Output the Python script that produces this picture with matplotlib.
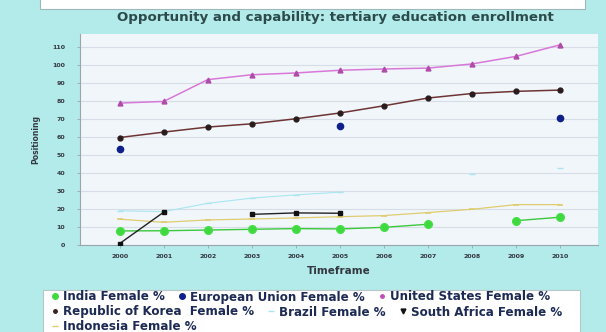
import numpy as np
import matplotlib
matplotlib.use("Agg")
import matplotlib.pyplot as plt
from matplotlib.patches import Rectangle
from matplotlib.lines import Line2D

years = [2000, 2001, 2002, 2003, 2004, 2005, 2006, 2007, 2008, 2009, 2010]
nan = np.nan

india = [7.8, 7.9, 8.3, 8.7, 9.1, 8.9, 9.8, 11.5, nan, 13.5, 15.4]
european_union = [53.3, nan, nan, nan, nan, 66.1, nan, nan, nan, nan, 70.4]
united_states = [78.7, 79.6, 91.7, 94.4, 95.4, 96.9, 97.6, 98.1, 100.4, 104.6, 111.0]
korea = [59.6, 62.6, 65.4, 67.2, 70.0, 73.2, 77.2, 81.5, 84.0, 85.2, 85.9]
brazil = [19.0, 18.5, 23.1, 26.0, 27.8, 29.3, nan, nan, 39.5, nan, 42.5]
south_africa = [0.8, 18.2, nan, 17.0, 17.8, 17.6, nan, nan, nan, nan, nan]
indonesia = [14.3, 12.6, 13.9, 14.4, 15.0, 15.7, 16.3, 18.0, 19.8, 22.4, 22.4]

yticks = list(range(0, 111, 10))

W, H = 606, 332
fig = plt.figure(figsize=(W / 100, H / 100), dpi=100)
fig.patch.set_facecolor("#b3eaea")

# white strip at the very top
fig.patches.append(Rectangle((40 / W, 1 - 9 / H), 545 / W, 12 / H, transform=fig.transFigure,
                             facecolor="white", edgecolor="#9cb8b8", linewidth=0.8, zorder=0))

ax = fig.add_axes([80 / W, 1 - 245 / H, 518 / W, 211 / H])
ax.set_facecolor("#f1f6fb")

x = np.array(years, dtype=float)


def series(vals, **kw):
    ax.plot(x, np.array(vals, dtype=float), **kw)


series(brazil, color="#a8e6f0", lw=0.8, marker="_", ms=5, mew=1.0, zorder=3)
series(indonesia, color="#e0cc70", lw=0.9, marker="_", ms=5, mew=1.2, zorder=3)
series(india, color="#3cc83c", lw=1.0, marker="o", ms=5.5, mec="#44e044", mfc="#40d840", zorder=4)
series(south_africa, color="#222222", lw=1.0, marker="s", ms=3.5, mfc="#111111", mec="#111111", zorder=5)
series(korea, color="#6e3434", lw=1.1, marker="o", ms=3.5, mfc="#2a1c1c", mec="#2a1c1c", zorder=4)
series(united_states, color="#d878d8", lw=1.1, marker="^", ms=3.5, mfc="#b04ca8", mec="#b04ca8", zorder=4)
ax.plot(x, np.array(european_union, dtype=float), linestyle="none", marker="o", ms=4.5,
        mfc="#10208a", mec="#10208a", zorder=5)

ax.set_xlim(1999.1, 2010.86)
ax.set_ylim(0, 117)
ax.set_xticks(years)
ax.set_xticklabels([str(y) for y in years])
ax.set_yticks(yticks)
ax.grid(axis="y", color="#d6dde6", lw=0.8)
ax.set_axisbelow(True)
for s in ("top", "right"):
    ax.spines[s].set_visible(False)
for s in ("left", "bottom"):
    ax.spines[s].set_color("#9aa6ad")
    ax.spines[s].set_linewidth(0.8)
ax.tick_params(axis="both", labelsize=4.5, colors="#9aa6ad", length=2.5, width=0.6)
ax.tick_params(axis="y", pad=8)
ax.tick_params(axis="x", pad=4)
for lab in ax.get_xticklabels() + ax.get_yticklabels():
    lab.set_color("#333840")
    lab.set_fontweight("bold")
ax.set_xlabel("Timeframe", fontsize=7.5, fontweight="bold", color="#333840", labelpad=5)
ax.set_ylabel("Positioning", fontsize=5.5, fontweight="bold", color="#333840", labelpad=9)

fig.text(335 / W, 1 - 17 / H, "Opportunity and capability: tertiary education enrollment",
         ha="center", va="center", fontsize=9.6, fontweight="bold", color="#2c4a4a")

# legend panel
fig.patches.append(Rectangle((43 / W, -0.02), 537 / W, 49 / H, transform=fig.transFigure,
                             facecolor="white", edgecolor="#b8c8c8", linewidth=0.8, zorder=0))

rows = [
    [("India Female %", dict(color="#40d840", marker="o", ms=4, linestyle="none")),
     ("European Union Female %", dict(color="#10208a", marker="o", ms=4, linestyle="none")),
     ("United States Female %", dict(color="#c050b8", marker="o", ms=2.5, linestyle="none"))],
    [("Republic of Korea  Female %", dict(color="#3a2020", marker="o", ms=2.5, linestyle="none")),
     ("Brazil Female %", dict(color="#a8e6f0", marker="_", ms=4, mew=1, linestyle="none")),
     ("South Africa Female %", dict(color="#111111", marker="v", ms=3.5, linestyle="none"))],
    [("Indonesia Female %", dict(color="#e0cc70", marker="_", ms=4, mew=1, linestyle="none"))],
]
row_y = [297, 312, 327]
for items, yy in zip(rows, row_y):
    handles = [Line2D([], [], **kw) for _, kw in items]
    labels = [t for t, _ in items]
    leg = fig.legend(handles, labels, loc="center left", bbox_to_anchor=(51 / W, 1 - yy / H),
                     ncol=len(items), frameon=False, handlelength=0.7,
                     prop=dict(size=8.6, weight="bold"),
                     handletextpad=0.3, columnspacing=1.1, borderaxespad=0, borderpad=0)
    for t in leg.get_texts():
        t.set_color("#1c2a55")

fig.savefig("out.png", dpi=100, facecolor=fig.get_facecolor())
